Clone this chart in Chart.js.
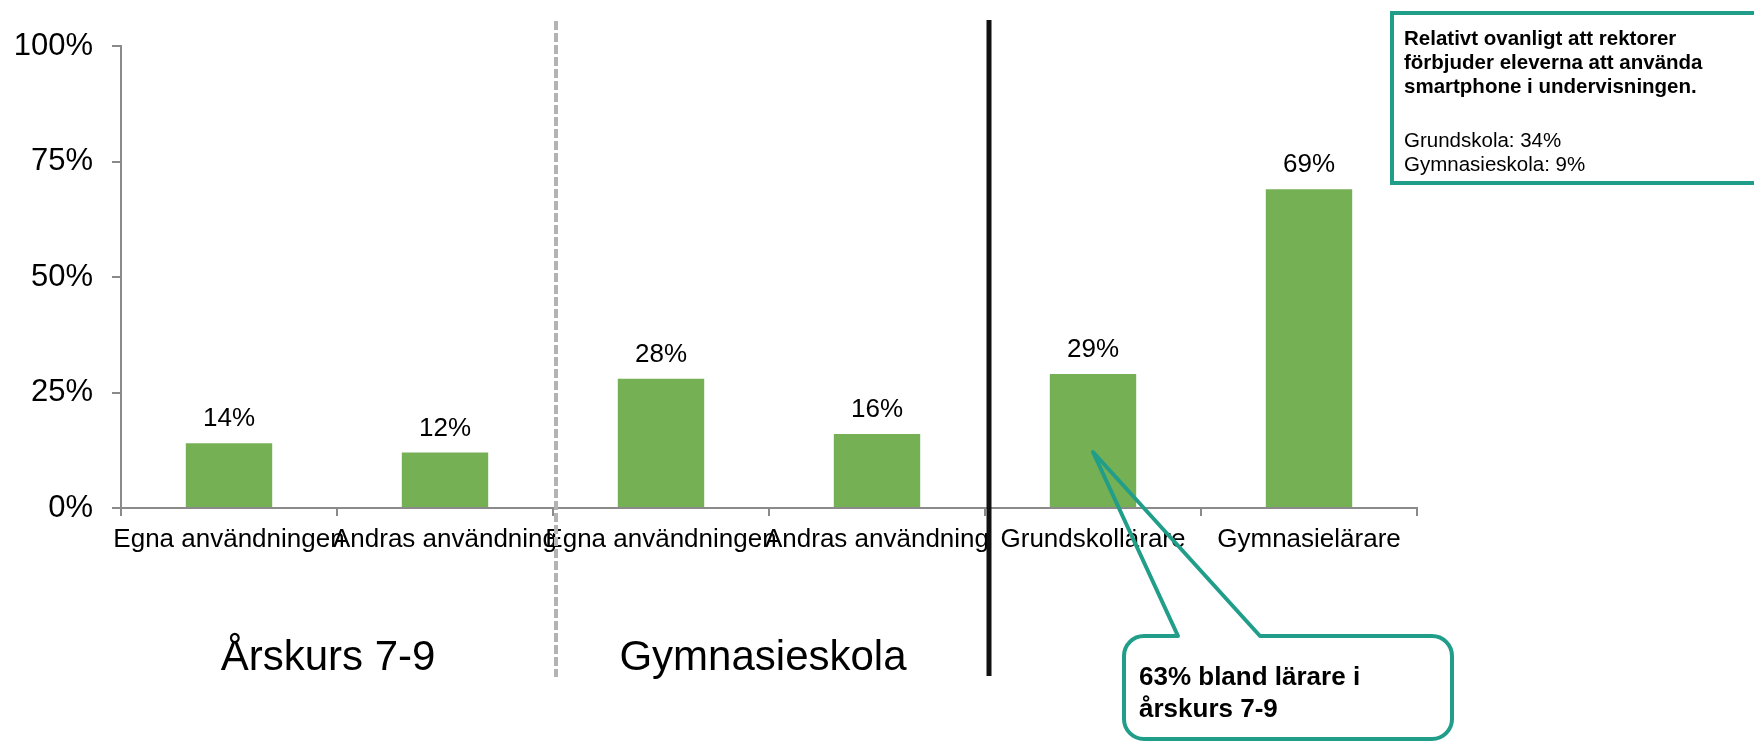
<!DOCTYPE html>
<html>
<head>
<meta charset="utf-8">
<script src="https://cdn.jsdelivr.net/npm/chart.js@4.4.0/dist/chart.umd.min.js"></script>
<style>
  html, body { margin: 0; padding: 0; background: #ffffff; }
  #wrap { width: 1754px; height: 742px; position: relative; }
</style>
</head>
<body>
<div id="wrap"><canvas id="c" width="1754" height="742"></canvas></div>
<script>
const categories = ['Egna användningen', 'Andras användning', 'Egna användningen', 'Andras användning', 'Grundskollärare', 'Gymnasielärare'];
const values = [14, 12, 28, 16, 29, 69];
const yTicks = [0, 25, 50, 75, 100];
const groupLabels = ['Årskurs 7-9', 'Gymnasieskola'];
const infoTitle = ['Relativt ovanligt att rektorer', 'förbjuder eleverna att använda', 'smartphone i undervisningen.'];
const infoLines = ['Grundskola: 34%', 'Gymnasieskola: 9%'];
const calloutLines = ['63% bland lärare i', 'årskurs 7-9'];

const FONT = '"Liberation Sans", Arial, sans-serif';
const TEAL = '#219e89';
const GREEN = '#75b055';
const AXIS = '#8a8a8a';

const overlay = {
  id: 'overlay',
  afterDatasetsDraw(chart) {
    const ctx = chart.ctx;
    const meta = chart.getDatasetMeta(0);
    ctx.save();
    ctx.fillStyle = '#000';
    ctx.font = '26px ' + FONT;
    ctx.textAlign = 'center';
    ctx.textBaseline = 'alphabetic';
    meta.data.forEach((bar, i) => {
      ctx.fillText(values[i] + '%', bar.x, bar.y - 17);
    });
    ctx.restore();
  },
  afterDraw(chart) {
    const ctx = chart.ctx;
    const xs = chart.scales.x;
    ctx.save();
    // dashed separator
    const xd = xs.getPixelForValue(1.5) + 3;
    ctx.strokeStyle = '#b3b3b3';
    ctx.lineWidth = 4;
    ctx.setLineDash([9, 3]);
    ctx.beginPath();
    ctx.moveTo(xd, 21);
    ctx.lineTo(xd, 677);
    ctx.stroke();
    ctx.setLineDash([]);
    // solid black separator
    const xb = xs.getPixelForValue(3.5) + 4;
    ctx.strokeStyle = '#111';
    ctx.lineWidth = 5;
    ctx.beginPath();
    ctx.moveTo(xb, 20);
    ctx.lineTo(xb, 676);
    ctx.stroke();

    // group labels
    ctx.fillStyle = '#000';
    ctx.font = '42px ' + FONT;
    ctx.textAlign = 'center';
    ctx.textBaseline = 'alphabetic';
    ctx.fillText(groupLabels[0], xs.getPixelForValue(0.5) - 9, 670);
    ctx.fillText(groupLabels[1], xs.getPixelForValue(2.5) - 6, 670);

    // info box top right
    ctx.fillStyle = '#fff';
    ctx.fillRect(1392, 13, 380, 170);
    ctx.strokeStyle = TEAL;
    ctx.lineWidth = 4;
    ctx.strokeRect(1392, 13, 380, 170);
    ctx.fillStyle = '#000';
    ctx.textAlign = 'left';
    ctx.textBaseline = 'alphabetic';
    ctx.font = 'bold 20.5px ' + FONT;
    infoTitle.forEach((t, i) => ctx.fillText(t, 1404, 44.5 + i * 24.4));
    ctx.font = '20.5px ' + FONT;
    infoLines.forEach((t, i) => ctx.fillText(t, 1404, 147 + i * 24));

    // callout
    const L = 1124, T = 636, R = 1452, B = 739, r = 20;
    ctx.strokeStyle = TEAL;
    ctx.lineWidth = 4;
    ctx.lineJoin = 'round';
    ctx.beginPath();
    ctx.moveTo(L + r, T);
    ctx.lineTo(1178, T);
    ctx.lineTo(1093, 452);
    ctx.lineTo(1260, T);
    ctx.lineTo(R - r, T);
    ctx.arcTo(R, T, R, T + r, r);
    ctx.lineTo(R, B - r);
    ctx.arcTo(R, B, R - r, B, r);
    ctx.lineTo(L + r, B);
    ctx.arcTo(L, B, L, B - r, r);
    ctx.lineTo(L, T + r);
    ctx.arcTo(L, T, L + r, T, r);
    ctx.closePath();
    ctx.stroke();
    ctx.fillStyle = '#000';
    ctx.font = 'bold 26px ' + FONT;
    ctx.textAlign = 'left';
    ctx.textBaseline = 'alphabetic';
    calloutLines.forEach((t, i) => ctx.fillText(t, 1139, 685 + i * 31.5));
    ctx.restore();
  }
};

new Chart(document.getElementById('c'), {
  type: 'bar',
  data: {
    labels: categories,
    datasets: [{
      data: values,
      backgroundColor: GREEN,
      borderWidth: 0,
      barPercentage: 0.4,
      categoryPercentage: 1.0
    }]
  },
  options: {
    responsive: false,
    animation: false,
    devicePixelRatio: 1,
    layout: { padding: { left: 0, right: 337, top: 46, bottom: 0 } },
    plugins: { legend: { display: false }, tooltip: { enabled: false } },
    scales: {
      x: {
        grid: { display: true, drawOnChartArea: false, drawTicks: true, tickLength: 8, color: AXIS, lineWidth: 2, offset: true },
        border: { display: true, color: AXIS, width: 2 },
        ticks: {
          autoSkip: false, maxRotation: 0, minRotation: 0, padding: 8,
          color: '#000', font: { family: FONT, size: 26 }
        },
        afterFit(scale) { scale.height = 234; }
      },
      y: {
        min: 0, max: 100,
        grid: { display: true, drawOnChartArea: false, drawTicks: true, tickLength: 9, color: AXIS, lineWidth: 2 },
        border: { display: true, color: AXIS, width: 2 },
        afterBuildTicks(scale) { scale.ticks = yTicks.map(v => ({ value: v })); },
        ticks: {
          padding: 19,
          color: '#000', font: { family: FONT, size: 31 },
          callback: v => v + '%'
        },
        afterFit(scale) { scale.width = 121; }
      }
    }
  },
  plugins: [overlay]
});
</script>
</body>
</html>
